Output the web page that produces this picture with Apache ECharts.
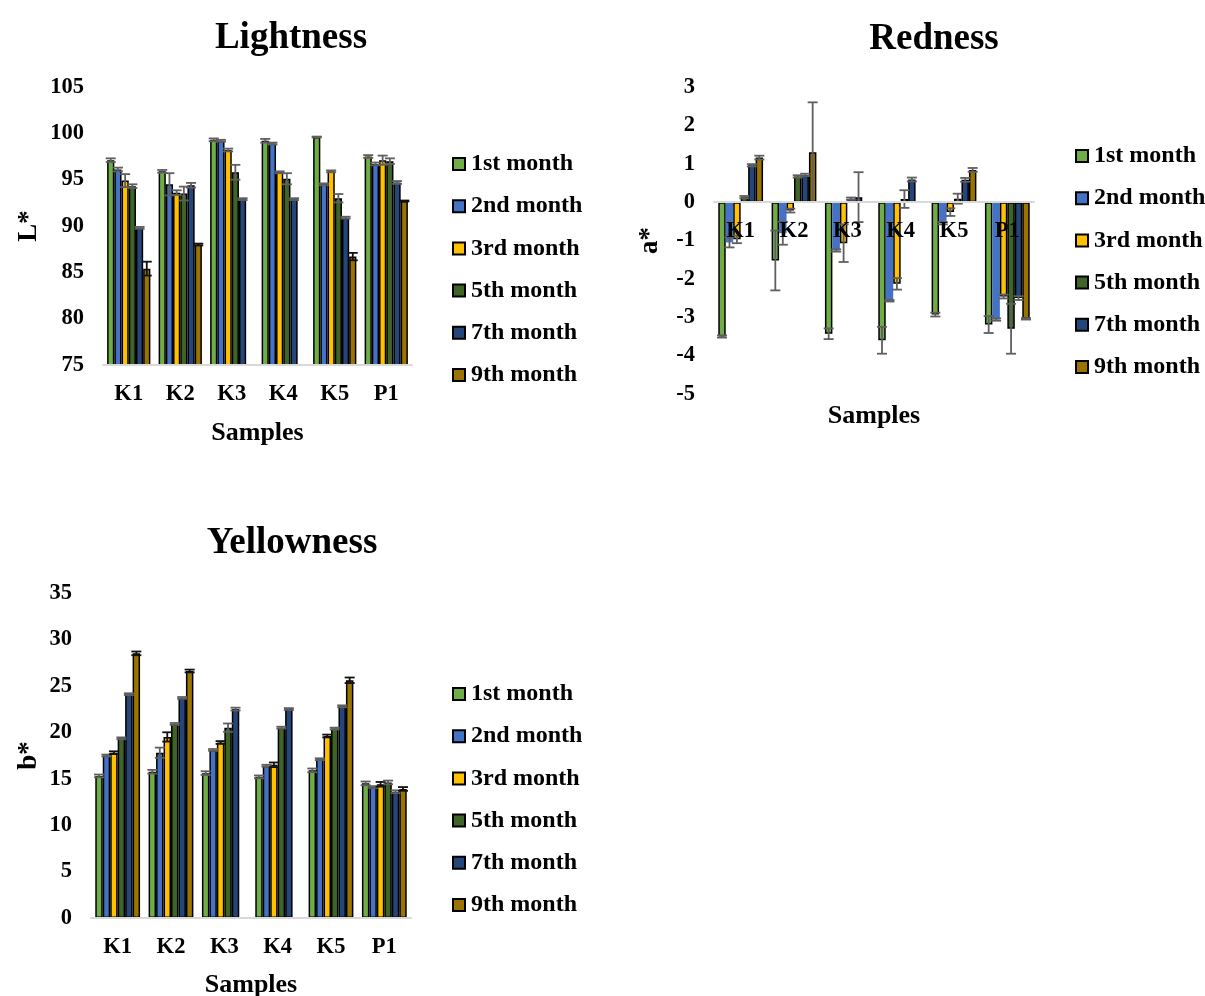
<!DOCTYPE html>
<html>
<head>
<meta charset="utf-8">
<script src="https://cdn.jsdelivr.net/npm/echarts@6/dist/echarts.min.js"></script>
<style>
  html, body { margin: 0; padding: 0; background: #fff; }
  #chart { width: 1205px; height: 996px; }
</style>
</head>
<body>
<div id="chart"></div>
<script>
// Colour measurements (CIELAB) of samples K1–K5 and P1 over nine months of storage
const samples = ['K1', 'K2', 'K3', 'K4', 'K5', 'P1'];
const months = ['1st month', '2nd month', '3rd month', '5th month', '7th month', '9th month'];
const monthColors = ['#70AD47', '#4472C4', '#FFC000', '#3F6428', '#25467A', '#9A7300'];

// Lightness L* (rows: months, columns: samples)
const lightnessValues = [
  [97.1, 95.9, 99.3, 99.2, 99.6, 97.5],
  [96.1, 94.5, 99.2, 98.9, 94.5, 96.7],
  [94.9, 93.6, 98.2, 95.8, 95.9, 97.1],
  [94.3, 93.5, 95.8, 95.1, 93.0, 97.0],
  [89.8, 94.4, 92.9, 92.9, 90.9, 94.7],
  [85.4, 88.0, null, null, 86.7, 92.7]
];
const lightnessErrors = [
  [0.2, 0.15, 0.15, 0.2, 0.05, 0.15],
  [0.2, 1.2, 0.1, 0.1, 0.1, 0.15],
  [0.7, 0.25, 0.15, 0.1, 0.1, 0.5],
  [0.2, 0.75, 0.8, 0.6, 0.45, 0.3],
  [0.1, 0.25, 0.1, 0.1, 0.1, 0.15],
  [0.75, 0.1, null, null, 0.4, 0.05]
];

// Redness a*
const rednessValues = [
  [-3.5, -1.52, -3.43, -3.6, -2.93, -3.19],
  [-1.05, -0.81, -1.26, -2.57, -0.55, -3.06],
  [-0.97, -0.22, -1.07, -2.13, -0.26, -2.46],
  [0.13, 0.67, 0.09, 0.08, 0.09, -3.3],
  [0.96, 0.71, 0.13, 0.59, 0.58, -2.5],
  [1.16, 1.3, null, null, 0.84, -3.04]
];
const rednessErrors = [
  [0.03, 0.78, 0.14, 0.35, 0.05, 0.22],
  [0.13, 0.3, 0.03, 0.02, 0.03, 0.03],
  [0.1, 0.05, 0.49, 0.15, 0.1, 0.05],
  [0.03, 0.03, 0.03, 0.23, 0.13, 0.65],
  [0.03, 0.03, 0.65, 0.05, 0.05, 0.05],
  [0.05, 1.3, null, null, 0.05, 0.02]
];

// Yellowness b*
const yellownessValues = [
  [15.3, 15.75, 15.6, 15.2, 15.9, 14.5],
  [17.5, 17.8, 18.1, 16.4, 17.1, 14.1],
  [17.8, 19.5, 18.9, 16.5, 19.6, 14.4],
  [19.35, 20.9, 20.5, 20.5, 20.4, 14.6],
  [24.1, 23.7, 22.5, 22.5, 22.8, 13.6],
  [28.5, 26.6, null, null, 25.6, 13.9]
];
const yellownessErrors = [
  [0.15, 0.2, 0.2, 0.15, 0.2, 0.2],
  [0.1, 0.55, 0.1, 0.1, 0.1, 0.1],
  [0.15, 0.5, 0.15, 0.25, 0.15, 0.25],
  [0.1, 0.1, 0.45, 0.1, 0.1, 0.2],
  [0.1, 0.1, 0.15, 0.1, 0.1, 0.15],
  [0.2, 0.15, null, null, 0.3, 0.2]
];

const FONT = '"Liberation Serif", "Times New Roman", serif';
const GAP = 0.16;
const GREY = '#5f5f5f';

const panels = [
  {
    title: 'Lightness', titleX: 291, titleY: 20,
    grid: { left: 103, top: 87, width: 309, height: 278 },
    yName: 'L*', yGap: 60, yMin: 75, yMax: 105, yInterval: 5,
    xGap: 55, xOffset: 0, legend: { left: 452, top: 152 },
    values: lightnessValues, errors: lightnessErrors,
    errColors: [GREY, GREY, GREY, GREY, GREY, '#111'],
    noBorder: []
  },
  {
    title: 'Redness', titleX: 934, titleY: 21,
    grid: { left: 714, top: 87, width: 320, height: 307 },
    yName: 'a*', yGap: 50, yMin: -5, yMax: 3, yInterval: 1,
    // category labels sit next to the zero line
    xGap: 201, xOffset: -(307 * 5 / 8), legend: { left: 1075, top: 144 },
    values: rednessValues, errors: rednessErrors,
    errColors: [GREY, GREY, GREY, GREY, GREY, GREY],
    noBorder: [1]
  },
  {
    title: 'Yellowness', titleX: 292, titleY: 525,
    grid: { left: 91, top: 593, width: 320, height: 325 },
    yName: 'b*', yGap: 48, yMin: 0, yMax: 35, yInterval: 5,
    xGap: 54, xOffset: 0, legend: { left: 452, top: 682 },
    values: yellownessValues, errors: yellownessErrors,
    errColors: [GREY, GREY, '#111', GREY, GREY, '#111'],
    noBorder: []
  }
];

// Error bars placed over the k-th bar of each category group
function errorBarRenderer(k, color) {
  return function (params, api) {
    const ci = api.value(0), v = api.value(1), e = api.value(2);
    const band = api.size([1, 0])[0];
    const groupW = band * (1 - GAP);
    const bw = groupW / months.length;
    const cx = api.coord([ci, v])[0] - groupW / 2 + bw * (k + 0.5);
    const yTop = api.coord([ci, v + e])[1];
    const yBot = api.coord([ci, v - e])[1];
    const cap = 5;
    const style = { stroke: color, lineWidth: 1.8 };
    return {
      type: 'group',
      children: [
        { type: 'line', shape: { x1: cx, y1: yTop, x2: cx, y2: yBot }, style: style },
        { type: 'line', shape: { x1: cx - cap, y1: yTop, x2: cx + cap, y2: yTop }, style: style },
        { type: 'line', shape: { x1: cx - cap, y1: yBot, x2: cx + cap, y2: yBot }, style: style }
      ]
    };
  };
}

const option = {
  backgroundColor: '#fff',
  animation: false,
  title: [], grid: [], xAxis: [], yAxis: [], legend: [], series: []
};
const errorSeries = [];

panels.forEach(function (p, i) {
  option.title.push({
    text: p.title, left: p.titleX, top: p.titleY, textAlign: 'center', padding: 0,
    textStyle: { fontFamily: FONT, fontSize: 37, fontWeight: 'bold', color: '#000' }
  });
  option.grid.push(Object.assign({ outerBoundsMode: 'none', containLabel: false }, p.grid));
  option.xAxis.push({
    type: 'category', gridIndex: i, data: samples, z: 10, offset: p.xOffset,
    name: 'Samples', nameLocation: 'middle', nameGap: p.xGap,
    nameTextStyle: { fontFamily: FONT, fontSize: 26, fontWeight: 'bold', color: '#000' },
    axisLine: { onZero: false, lineStyle: { color: '#d9d9d9', width: 2 } },
    axisTick: { show: false },
    axisLabel: { fontFamily: FONT, fontSize: 22.5, fontWeight: 'bold', color: '#000', margin: 18 },
    splitLine: { show: false }
  });
  option.yAxis.push({
    type: 'value', gridIndex: i, min: p.yMin, max: p.yMax, interval: p.yInterval,
    name: p.yName, nameLocation: 'middle', nameGap: p.yGap, nameRotate: 90,
    nameTextStyle: { fontFamily: FONT, fontSize: 27, fontWeight: 'bold', color: '#000' },
    axisLine: { show: false }, axisTick: { show: false },
    axisLabel: { fontFamily: FONT, fontSize: 22.5, fontWeight: 'bold', color: '#000', margin: 19, padding: [4, 0, 0, 0] },
    splitLine: { show: false }
  });
  option.legend.push({
    orient: 'vertical', left: p.legend.left, top: p.legend.top, padding: 0,
    data: months, itemWidth: 12, itemHeight: 12, itemGap: 18.2,
    icon: 'rect', selectedMode: false,
    textStyle: { fontFamily: FONT, fontSize: 24, fontWeight: 'bold', color: '#000', padding: [0, 0, 0, 1] }
  });
  months.forEach(function (m, k) {
    const bordered = p.noBorder.indexOf(k) < 0;
    option.series.push({
      type: 'bar', name: m, xAxisIndex: i, yAxisIndex: i,
      data: p.values[k], barGap: '0%', barCategoryGap: (GAP * 100) + '%',
      itemStyle: {
        color: monthColors[k],
        borderColor: bordered ? '#000' : monthColors[k],
        borderWidth: bordered ? 1.5 : 0
      },
      emphasis: { disabled: true }
    });
    const pts = [];
    p.values[k].forEach(function (v, ci) {
      if (v !== null) pts.push([ci, v, p.errors[k][ci]]);
    });
    errorSeries.push({
      type: 'custom', name: m, xAxisIndex: i, yAxisIndex: i, z: 5,
      renderItem: errorBarRenderer(k, p.errColors[k]),
      encode: { x: 0, y: 1 }, data: pts, silent: true
    });
  });
});
option.series = option.series.concat(errorSeries);

const chart = echarts.init(document.getElementById('chart'), null, { renderer: 'canvas' });
chart.setOption(option);
</script>
</body>
</html>
